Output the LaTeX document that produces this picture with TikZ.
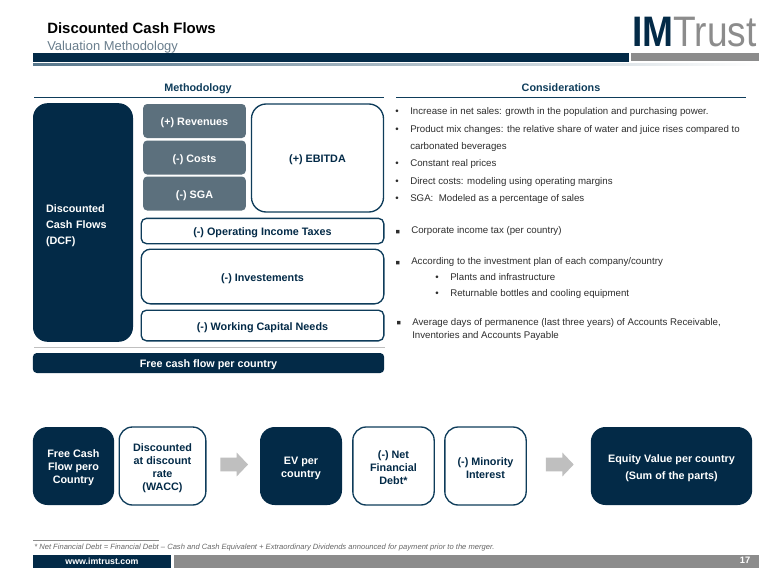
\documentclass[tikz,border=0pt]{standalone}
\usepackage{fontspec}
\setmainfont{Liberation Sans}
\usepackage{xcolor}
\usetikzlibrary{shapes.arrows}
\definecolor{imnavy}{RGB}{3,42,71}
\definecolor{imslate}{RGB}{92,112,125}
\definecolor{imedge}{RGB}{14,60,90}
\definecolor{imgrey}{RGB}{140,140,140}
\definecolor{imsub}{RGB}{105,125,140}
\definecolor{imtext}{RGB}{45,45,45}
\newcommand{\dropline}{\mbox{}\\[-1.25pt]}

\begin{document}
\begin{tikzpicture}[x=0.75pt, y=-0.75pt,
    darkbox/.style={fill=imnavy, text=white, font=\fontsize{8.1}{9.75}\selectfont\bfseries, rounded corners=11pt, align=center, inner sep=0pt},
    slatebox/.style={fill=imslate, text=white, font=\fontsize{8.1}{9.75}\selectfont\bfseries, rounded corners=3pt, align=center, inner sep=0pt, minimum width=77pt, minimum height=25.5pt},
    linebox/.style={draw=imedge, line width=1pt, fill=white, text=imnavy, font=\fontsize{8.1}{9.75}\selectfont\bfseries, rounded corners=4pt, align=center, inner sep=0pt},
    flowbox/.style={linebox, rounded corners=10pt},
    heading/.style={text=imedge, font=\fontsize{8.1}{9.75}\selectfont\bfseries, inner sep=0pt, anchor=base},
    bodytext/.style={text=imtext, font=\fontsize{7.27}{9.5}\selectfont, anchor=base west, inner sep=0pt},
    squaremark/.style={bodytext, font=\fontsize{10.5}{12}\selectfont},
    blockarrow/.style={single arrow, fill=black!25, anchor=tail, inner xsep=0pt, inner ysep=5pt, minimum height=20.8pt, single arrow head extend=3.75pt, single arrow tip angle=93}]
    \useasboundingbox (0,0) rectangle (780,585);

    % Title and logo
    \node[anchor=base west, inner sep=0pt, font=\fontsize{11.2}{14}\selectfont\bfseries] (title) at (47,33.5) {Discounted Cash Flows};
    \node[anchor=base west, inner sep=0pt, text=imsub, font=\fontsize{9.7}{12}\selectfont] (subtitle) at (47,50.5) {Valuation Methodology};
    \node[anchor=base west, inner sep=0pt, font=\fontsize{32}{34}\selectfont, xscale=0.87] (logo) at (632,46.5) {\textcolor{imnavy}{\bfseries IM}\textcolor{imgrey}{Trust}};

    % Header rules
    \fill[imnavy] (33,53.5) rectangle (629,62);
    \fill[imgrey] (631,53.5) rectangle (759,61.5);
    \shade[left color=imedge!70, right color=white] (33,64) rectangle (759,65.5);

    % Column headings
    \node[heading] (methodology) at (198,91.5) {Methodology};
    \node[heading] (considerations) at (561,91.5) {Considerations};
    \draw[imedge, line width=0.8pt] (34,97.5) -- (384,97.5);
    \draw[imedge, line width=0.8pt] (396,97.5) -- (746,97.5);

    % Methodology boxes
    \node[darkbox, minimum width=75pt, minimum height=179pt, text width=55.5pt, align=left] (dcf) at (83,222.5) {\mbox{}\\[0.5pt]Discounted\\[2.25pt]Cash Flows\\[2.25pt](DCF)};
    \node[slatebox] (revenues) at (194.5,121) {\dropline(+) Revenues};
    \node[slatebox] (costs) at (194.5,157.5) {\dropline(-) Costs};
    \node[slatebox] (sga) at (194.5,193.5) {\dropline(-) SGA};
    \node[linebox, rounded corners=11pt, minimum width=99pt, minimum height=81pt] (ebitda) at (317.5,158) {\dropline(+) EBITDA};
    \node[linebox, minimum width=182pt, minimum height=19pt] (taxes) at (262.5,231) {\dropline(-) Operating Income Taxes};
    \node[linebox, rounded corners=7pt, minimum width=182pt, minimum height=41pt] (invest) at (262.5,276.5) {\dropline(-) Investements};
    \node[linebox, minimum width=182pt, minimum height=23pt] (capital) at (262.5,325.5) {\dropline(-) Working Capital Needs};
    \draw[black!25, line width=0.6pt] (34,347) -- (385,347);
    \node[darkbox, rounded corners=3pt, minimum width=263.5pt, minimum height=15pt] (fcf) at (208.5,363) {\dropline Free cash flow per country};

    % Considerations list
    \node[bodytext] (b1) at (395,114.5) {•};
    \node[bodytext] (t1) at (410,114.5) {Increase in net sales: growth in the population and purchasing power.};
    \node[bodytext] (b2) at (395,132) {•};
    \node[bodytext] (t2) at (410,132) {Product mix changes: the relative share of water and juice rises compared to};
    \node[bodytext] (t2b) at (410,149.5) {carbonated beverages};
    \node[bodytext] (b3) at (395,166.5) {•};
    \node[bodytext] (t3) at (410,166.5) {Constant real prices};
    \node[bodytext] (b4) at (395,184) {•};
    \node[bodytext] (t4) at (410,184) {Direct costs: modeling using operating margins};
    \node[bodytext] (b5) at (395,201.5) {•};
    \node[bodytext] (t5) at (410,201.5) {SGA:\ \ Modeled as a percentage of sales};

    \node[squaremark] (b6) at (395,236) {▪};
    \node[bodytext] (t6) at (411,233) {Corporate income tax (per country)};
    \node[squaremark] (b7) at (395,267) {▪};
    \node[bodytext] (t7) at (411,264) {According to the investment plan of each company/country};
    \node[bodytext] (b7a) at (435,280) {•};
    \node[bodytext] (t7a) at (450,280) {Plants and infrastructure};
    \node[bodytext] (b7b) at (435,296) {•};
    \node[bodytext] (t7b) at (450,296) {Returnable bottles and cooling equipment};
    \node[squaremark] (b8) at (396,327.5) {▪};
    \node[bodytext] (t8) at (412,325) {Average days of permanence (last three years) of Accounts Receivable,};
    \node[bodytext] (t8b) at (412,338) {Inventories and Accounts Payable};

    % Valuation steps
    \node[darkbox, minimum width=61pt, minimum height=58.5pt] (cashflow) at (73.5,466) {\dropline Free Cash\\Flow pero\\Country};
    \node[flowbox, minimum width=65pt, minimum height=58.5pt] (wacc) at (162.5,466) {\dropline Discounted\\at discount\\rate\\(WACC)};
    \node[blockarrow] (arrowa) at (220,464.5) {};
    \node[darkbox, minimum width=61.5pt, minimum height=58.5pt] (ev) at (301,466) {\dropline EV per\\country};
    \node[flowbox, minimum width=61pt, minimum height=58.5pt] (netdebt) at (393.5,466) {\dropline(-) Net\\Financial\\Debt*};
    \node[flowbox, minimum width=61pt, minimum height=58.5pt] (minority) at (485.5,466) {\dropline(-) Minority\\Interest};
    \node[blockarrow] (arrowb) at (545.7,464.5) {};
    \node[darkbox, minimum width=121pt, minimum height=58.5pt] (equity) at (671.5,466) {\mbox{}\\[-0.5pt]Equity Value per country\\[3pt](Sum of the parts)};

    % Footnote and footer
    \draw[black!45, line width=0.4pt] (33,540.5) -- (159,540.5);
    \node[anchor=base west, inner sep=0pt, text=black!60, font=\fontsize{5.69}{7}\selectfont\itshape] (footnote) at (34,549) {* Net Financial Debt = Financial Debt – Cash and Cash Equivalent + Extraordinary Dividends announced for payment prior to the merger.};
    \node[fill=imnavy, text=white, inner sep=0pt, minimum width=103.5pt, minimum height=9.75pt, font=\fontsize{6.6}{9}\selectfont\bfseries] (website) at (102,561) {www.imtrust.com};
    \fill[imgrey] (174,554.5) rectangle (759,567.5);
    \node[text=white, inner sep=0pt, font=\fontsize{7}{9}\selectfont\bfseries] (page) at (745,560.5) {17};
\end{tikzpicture}
\end{document}
